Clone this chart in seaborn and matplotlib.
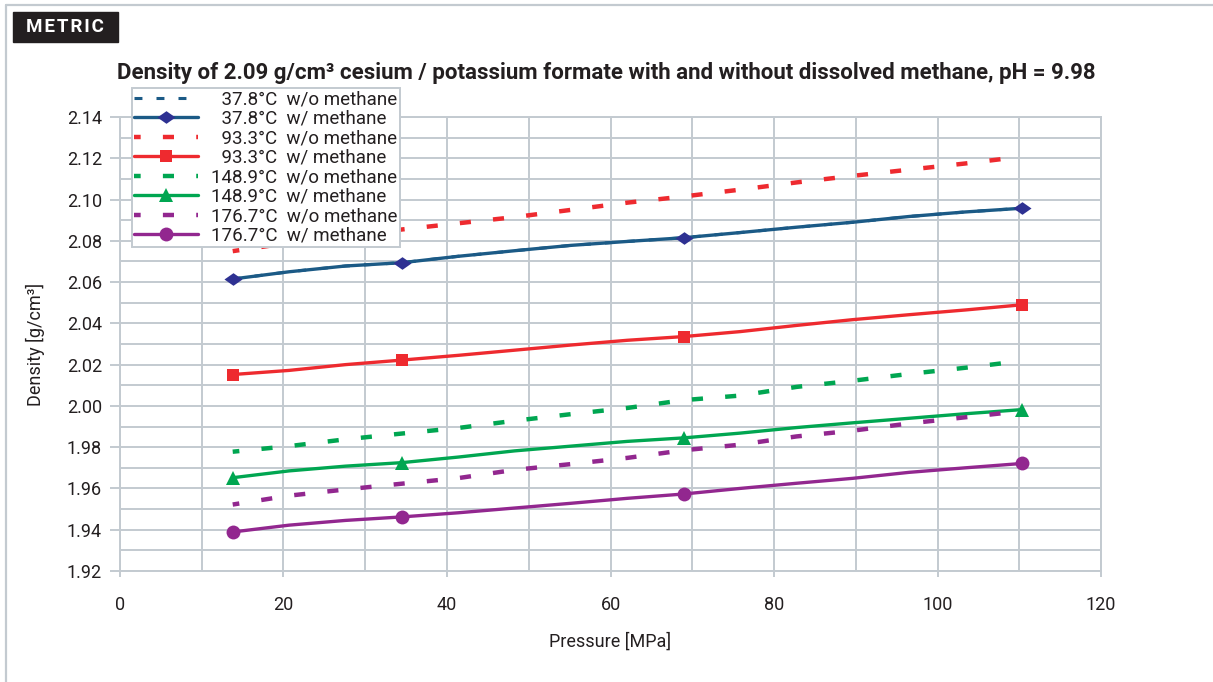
import numpy as np
import pandas as pd
import matplotlib.pyplot as plt
import seaborn as sns
from matplotlib.path import Path
from matplotlib.patches import Rectangle
from matplotlib.lines import Line2D
from matplotlib.ticker import MultipleLocator, FormatStrFormatter

# pressure steps (MPa)
pressure = [13.79, 20.68, 27.58, 34.47, 41.37, 48.26, 55.16, 62.05,
            68.95, 75.84, 82.74, 89.63, 96.53, 103.42, 110.32]
marker_idx = [0, 3, 8, 14]

# density [g/cm3]
d378_wo = [2.0615, 2.0650, 2.0678, 2.0694, 2.0725, 2.0752, 2.0778, 2.0797,
           2.0815, 2.0840, 2.0866, 2.0890, 2.0918, 2.0940, 2.0958]
d378_w = [2.0615, 2.0650, 2.0678, 2.0694, 2.0725, 2.0752, 2.0778, 2.0797,
          2.0815, 2.0840, 2.0866, 2.0890, 2.0918, 2.0940, 2.0958]
d933_wo = [2.0750, 2.0790, 2.0825, 2.0855, 2.0885, 2.0915, 2.0950, 2.0985,
           2.1015, 2.1048, 2.1083, 2.1115, 2.1145, 2.1175, 2.1208]
d933_w = [2.0152, 2.0172, 2.0200, 2.0222, 2.0245, 2.0270, 2.0295, 2.0318,
          2.0336, 2.0360, 2.0390, 2.0418, 2.0442, 2.0465, 2.0490]
d1489_wo = [1.9778, 1.9805, 1.9838, 1.9866, 1.9893, 1.9928, 1.9960, 1.9990,
            2.0028, 2.0050, 2.0092, 2.0122, 2.0155, 2.0185, 2.0218]
d1489_w = [1.9652, 1.9685, 1.9708, 1.9725, 1.9752, 1.9782, 1.9805, 1.9828,
           1.9845, 1.9868, 1.9895, 1.9918, 1.9940, 1.9962, 1.9982]
d1767_wo = [1.9522, 1.9565, 1.9595, 1.9623, 1.9650, 1.9690, 1.9718, 1.9748,
            1.9785, 1.9812, 1.9852, 1.9880, 1.9915, 1.9945, 1.9975]
d1767_w = [1.9389, 1.9422, 1.9445, 1.9462, 1.9482, 1.9505, 1.9528, 1.9552,
           1.9573, 1.9600, 1.9625, 1.9649, 1.9678, 1.9700, 1.9721]

labels = ["\u200737.8°C  w/o methane", "\u200737.8°C  w/ methane",
          "\u200793.3°C  w/o methane", "\u200793.3°C  w/ methane",
          "148.9°C  w/o methane", "148.9°C  w/ methane",
          "176.7°C  w/o methane", "176.7°C  w/ methane"]

wide_diamond = Path([(-1, 0), (0, 0.7), (1, 0), (0, -0.7), (-1, 0)],
                    [Path.MOVETO, Path.LINETO, Path.LINETO, Path.LINETO, Path.CLOSEPOLY])

blue = "#1b5a86"
indigo = "#2e3192"
red = "#ee2a2f"
green = "#00a651"
purple = "#92278f"
gridc = "#c3cad0"
txt = "#231f20"

# label, data, line colour, marker colour, dashed?, marker, marker size
series = [
    (labels[0], d378_wo, blue, blue, "short", None, 0),
    (labels[1], d378_w, blue, indigo, None, wide_diamond, 13),
    (labels[2], d933_wo, red, red, "long", None, 0),
    (labels[3], d933_w, red, red, None, "s", 9),
    (labels[4], d1489_wo, green, green, "long", None, 0),
    (labels[5], d1489_w, green, green, None, "^", 10),
    (labels[6], d1767_wo, purple, purple, "long", None, 0),
    (labels[7], d1767_w, purple, purple, None, "o", 10),
]

sns.set_theme(style="white")
plt.rcParams['font.family'] = ['Roboto', 'DejaVu Sans']

fig = plt.figure(figsize=(12.13, 6.82), dpi=100)
ax = fig.add_axes([0.0989, 0.1628, 0.8088, 0.6656])

for lab, vals, col, mcol, dash, mk, ms in series:
    if dash == "short":
        sns.lineplot(x=pressure, y=vals, ax=ax, color=col, lw=2.2,
                     linestyle=(0, (2.6, 4.6)), label=lab)
    elif dash == "long":
        sns.lineplot(x=pressure, y=vals, ax=ax, color=col, lw=3.2,
                     linestyle=(1, (2.5, 5)), label=lab)
    else:
        sns.lineplot(x=pressure, y=vals, ax=ax, color=col, lw=2.4,
                     marker=mk, markersize=ms, markevery=marker_idx,
                     markerfacecolor=mcol, markeredgecolor=mcol,
                     markeredgewidth=0, label=lab)

ax.set_xlim(0, 120)
ax.set_ylim(1.92, 2.14)
ax.xaxis.set_major_locator(MultipleLocator(20))
ax.xaxis.set_minor_locator(MultipleLocator(10))
ax.yaxis.set_major_locator(MultipleLocator(0.02))
ax.yaxis.set_minor_locator(MultipleLocator(0.01))
ax.yaxis.set_major_formatter(FormatStrFormatter("%.2f"))
ax.grid(which="both", color=gridc, lw=1.4)
ax.set_axisbelow(True)
for s in ax.spines.values():
    s.set_color(gridc)
    s.set_linewidth(1.4)
ax.tick_params(which="minor", length=0)
ax.tick_params(axis="y", which="major", left=True, length=7, width=1.4,
               color=gridc, pad=6, labelsize=13, labelcolor=txt)
ax.tick_params(axis="x", which="major", bottom=True, length=4, width=1.4,
               color=gridc, pad=14, labelsize=13, labelcolor=txt)

ax.set_xlabel("Pressure [MPa]", fontsize=13, color=txt, labelpad=13)
ax.set_ylabel("Density [g/cm³]", fontsize=13, color=txt, labelpad=16)

leg = ax.legend(loc="upper left", bbox_to_anchor=(0.012, 1.064),
                borderaxespad=0, fontsize=13.5, labelspacing=0.08,
                handlelength=3.4, handletextpad=0.7, borderpad=0.12,
                frameon=True, fancybox=False, framealpha=1, numpoints=1)
leg.get_frame().set_edgecolor(gridc)
leg.get_frame().set_linewidth(1.4)
for t in leg.get_texts():
    t.set_color(txt)

fig.text(0.4996, 0.893, "Density of 2.09 g/cm³ cesium / potassium formate with and "
         "without dissolved methane, pH = 9.98", ha="center", va="center",
         fontsize=16, fontweight="bold", color=txt)

# METRIC tag
fig.patches.append(Rectangle((13 / 1213, 1 - 42 / 682), 105 / 1213, 30 / 682,
                             transform=fig.transFigure, color="#231f20", zorder=1))
fig.text(65 / 1213, 1 - 27 / 682, "M E T R I C".replace(" ", "\u200a"), ha="center",
         va="center", fontsize=13.5, fontweight="bold", color="white", zorder=2)

# outer frame
fig.add_artist(Line2D([6 / 1213, 1], [1 - 5 / 682, 1 - 5 / 682],
                      transform=fig.transFigure, color=gridc, lw=1.6))
fig.add_artist(Line2D([6 / 1213, 6 / 1213], [0, 1 - 5 / 682],
                      transform=fig.transFigure, color=gridc, lw=1.6))

fig.savefig("out.png", dpi=100)
